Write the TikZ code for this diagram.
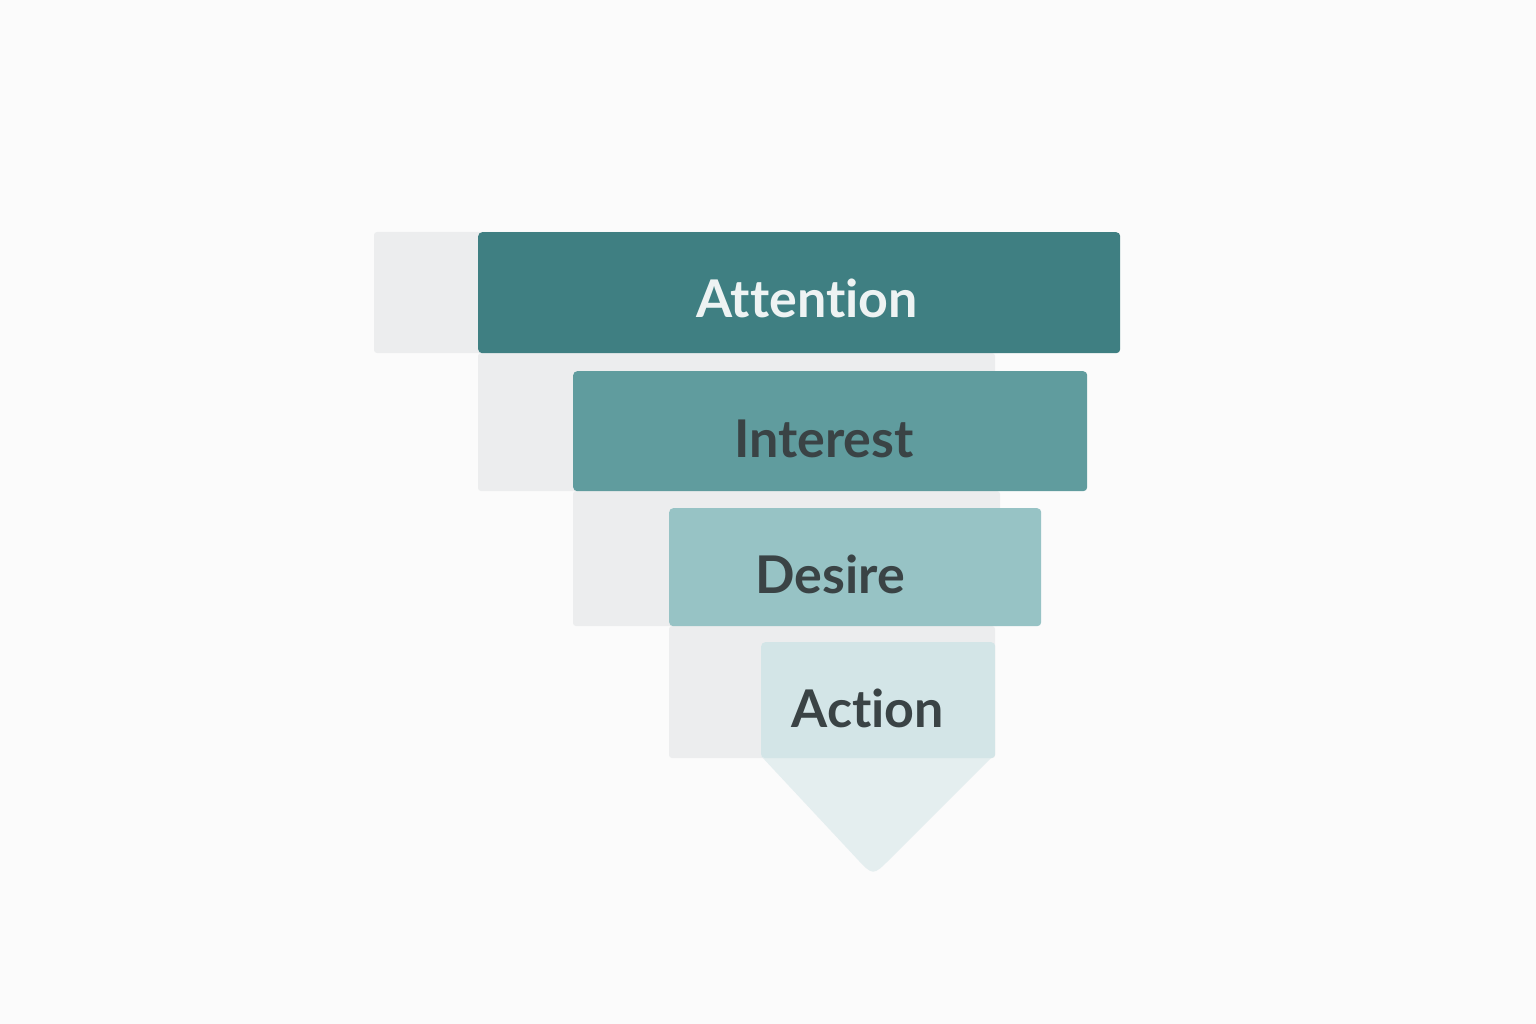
\documentclass[tikz,border=0pt]{standalone}
\usepackage{fontspec}
\setmainfont[Ligatures=NoCommon]{Lato}
\usetikzlibrary{calc}
\begin{document}
\begin{tikzpicture}[x=1pt,y=-1pt,
  shadowbox/.style={fill=shadowgray, rounded corners=3pt},
  stagebox/.style={rounded corners=4pt},
  stagetext/.style={anchor=base, font=\fontsize{52}{60}\selectfont\bfseries, inner sep=0pt},
]
\definecolor{bg}{HTML}{FBFBFB}
\definecolor{shadowgray}{HTML}{ECEDEE}
\definecolor{attn}{HTML}{3F7F82}
\definecolor{intr}{HTML}{609C9E}
\definecolor{desr}{HTML}{97C3C5}
\definecolor{actn}{HTML}{D3E5E7}
\definecolor{arrowc}{HTML}{E4EEEF}
\definecolor{darktext}{HTML}{3A4345}
\definecolor{lighttext}{HTML}{EEF3F3}
\fill[bg] (0,0) rectangle (1536,1024);
\useasboundingbox (0,0) rectangle (1536,1024);
% shadows
\fill[shadowbox] (374,232) rectangle (1000,353);
\fill[shadowbox] (478,353) rectangle (995,491);
\fill[shadowbox] (573,491) rectangle (1000,626);
\fill[shadowbox] (669,626) rectangle (995,758);
% arrow tip
\coordinate (tipL) at (761,756);
\coordinate (tipR) at (993,756);
\coordinate (tip) at (873,876);
\fill[arrowc] (761,740) -- (tipL) -- ($(tip)!24pt!(tipL)$) .. controls (tip) .. ($(tip)!24pt!(tipR)$) -- (tipR) -- (993,740) -- cycle;
% stage boxes
\node[stagebox, fill=attn, minimum width=642pt, minimum height=121pt, inner sep=0pt, anchor=north west] (A) at (478,232) {};
\node[stagebox, fill=intr, minimum width=514pt, minimum height=120pt, inner sep=0pt, anchor=north west] (I) at (573,371) {};
\node[stagebox, fill=desr, minimum width=372pt, minimum height=118pt, inner sep=0pt, anchor=north west] (D) at (669,508) {};
\node[stagebox, fill=actn, minimum width=234pt, minimum height=116pt, inner sep=0pt, anchor=north west] (C) at (761,642) {};
% labels
\node[stagetext, text=lighttext] (tA) at (807,317) {Attention};
\node[stagetext, text=darktext] (tI) at (824,457) {Interest};
\node[stagetext, text=darktext] (tD) at (830,593) {Desire};
\node[stagetext, text=darktext] (tC) at (868,727) {Action};
\end{tikzpicture}
\end{document}
